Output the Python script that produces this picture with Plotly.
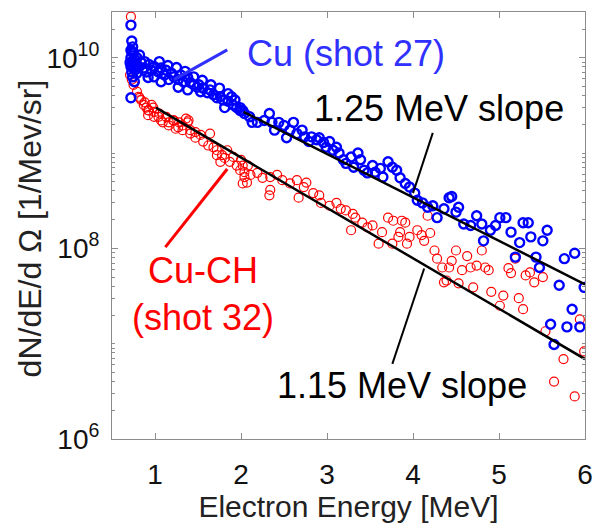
import plotly.graph_objects as go

# Cu target, shot 27: electron energy [MeV] and dN/dE/dOmega [1/MeV/sr]
cu_energy = [
    0.72, 0.73, 0.74, 0.73, 0.72, 0.74, 0.72, 0.73, 0.75, 0.72, 0.76, 0.77, 0.79, 0.82,
    0.81, 0.79, 0.84, 0.87, 0.88, 0.90, 0.93, 0.96, 0.99, 0.99, 1.04, 1.07, 1.11, 1.13,
    1.16, 1.19, 1.22, 1.27, 1.30, 1.33, 1.38, 1.41, 1.45, 1.49, 1.51, 1.53, 1.56, 1.61,
    1.64, 1.68, 1.72, 1.76, 1.79, 1.81, 1.85, 1.89, 1.91, 1.95, 1.99, 2.02, 0.92, 1.07,
    1.27, 1.38, 0.71, 0.72, 0.74, 0.75, 0.73, 0.76, 0.78,
    1.05, 1.15, 1.25, 1.35, 1.45, 1.55, 1.65, 1.75, 1.85, 1.93,
    1.99, 2.04, 2.10, 2.13, 2.19, 2.27, 2.33, 2.36, 2.39, 2.44, 2.50, 2.53, 2.57, 2.61,
    2.65, 2.71, 2.74, 2.79, 2.82, 2.88, 2.91, 2.96, 2.99, 3.03, 3.07, 3.11, 3.14, 3.19,
    3.22, 3.28, 3.31, 3.36, 3.39, 3.43, 3.47, 3.53, 3.56, 3.62, 3.65, 3.71, 3.76, 3.81,
    3.85, 3.91, 3.96,
    4.02, 4.05, 4.11, 4.17, 4.23, 4.28, 4.36, 4.42, 4.45, 4.50, 4.53, 4.59, 4.67, 4.74,
    4.80, 4.82, 4.90, 4.96, 5.01, 5.08, 5.14, 5.19, 5.24, 5.28, 5.34, 5.37, 5.43, 5.47,
    5.51, 5.56, 5.70, 5.76, 5.88, 5.99, 5.85, 5.60, 5.79, 5.94, 5.64,
]
cu_counts = [
    2.2e10, 1.5e10, 1.3e10, 1.15e10, 1.0e10, 9.1e9, 8.1e9, 7.1e9, 7.8e9, 3.8e9, 5.6e9, 9.5e9, 1.0e10, 1.07e10,
    8.1e9, 6.9e9, 8.9e9, 7.8e9, 9.1e9, 7.1e9, 8.5e9, 7.4e9, 8.1e9, 6.3e9, 7.1e9, 7.8e9, 6.6e9, 7.4e9,
    5.9e9, 6.9e9, 6.3e9, 5.9e9, 6.6e9, 5.6e9, 6.2e9, 5.5e9, 5.2e9, 4.9e9, 5.2e9, 4.4e9, 4.8e9, 4.3e9,
    4.6e9, 4.1e9, 3.8e9, 3.9e9, 3.6e9, 3.0e9, 3.5e9, 3.9e9, 3.2e9, 3.0e9, 2.8e9, 2.8e9, 6.2e9, 5.6e9,
    4.9e9, 4.6e9, 8.9e9, 1.2e10, 6.3e9, 1.12e10, 8.5e9, 8.3e9, 7.6e9,
    9.1e9, 8.3e9, 7.9e9, 7.2e9, 6.3e9, 5.8e9, 5.2e9, 4.8e9, 4.2e9, 3.6e9,
    3.0e9, 2.6e9, 2.4e9, 2.1e9, 2.1e9, 2.2e9, 2.6e9, 2.1e9, 1.74e9, 2.1e9, 1.95e9, 1.45e9, 1.74e9, 2.1e9,
    1.6e9, 1.74e9, 1.48e9, 1.32e9, 1.48e9, 1.38e9, 1.45e9, 1.29e9, 1.15e9, 1.32e9, 1.07e9, 1.15e9, 1.0e9, 8.5e8,
    7.8e8, 9.1e8, 7.1e8, 1.0e9, 8.5e8, 6.6e8, 6.2e8, 7.4e8, 6.3e8, 6.9e8, 5.6e8, 8.1e8, 7.1e8, 6.6e8,
    5.5e8, 4.8e8, 4.4e8,
    3.8e8, 3.2e8, 3.0e8, 2.7e8, 2.8e8, 2.1e8, 2.6e8, 3.4e8, 3.5e8, 2.4e8, 2.7e8, 1.8e8, 1.74e8, 2.2e8,
    1.8e8, 1.2e8, 1.55e8, 1.74e8, 2.1e8, 2.1e8, 1.48e8, 8.1e7, 1.15e8, 1.86e8, 1.86e8, 1.32e8, 8.1e7, 6.3e7,
    1.2e8, 1.55e8, 4.1e7, 7.8e7, 8.9e7, 3.9e7, 2.3e7, 1.6e7, 1.5e7, 1.5e7, 9.8e6,
]

# Cu-CH target, shot 32
cuch_energy = [
    0.72, 0.71, 0.73, 0.75, 0.79, 0.81, 0.84, 0.87, 0.90, 0.93, 0.92, 0.98, 0.99, 1.05,
    1.07, 1.13, 1.16, 1.22, 1.27, 1.32, 1.36, 1.39, 1.41, 1.47, 1.53, 0.82, 0.88, 0.92,
    0.96, 0.99, 1.04, 1.09, 1.16, 1.21, 1.24, 1.28, 1.32, 1.38, 1.41, 1.47, 1.56, 1.64,
    1.62, 1.68, 1.72, 1.78, 1.81, 1.84, 1.87, 1.91, 1.95, 1.99, 2.02, 2.04, 2.07, 1.72,
    1.76,
    2.00, 2.08, 2.04, 2.11, 2.02, 2.19, 2.25, 2.34, 2.42, 2.48, 2.34, 2.33, 2.57, 2.65,
    2.76, 2.73, 2.67, 2.84, 2.91, 2.93, 3.03, 3.11, 3.16, 3.22, 3.30, 3.33, 3.41, 3.47,
    3.53, 3.28, 3.64, 3.71, 3.77, 3.87, 3.83, 3.60, 3.76, 3.93, 3.96,
    3.91, 3.85, 4.05, 4.13, 4.10, 4.20, 4.17, 4.25, 4.28, 4.34, 4.42, 4.45, 4.50, 4.39,
    4.57, 4.63, 4.67, 4.74, 4.80, 4.84, 4.88, 5.11, 5.14, 5.19, 5.31, 5.36, 5.41, 5.51,
    4.36, 4.53, 4.70, 4.91, 5.05, 5.01, 5.23, 5.28, 5.54, 5.94, 5.99, 5.75, 5.64, 5.88,
]
cuch_counts = [
    2.7e10, 6.6e9, 5.9e9, 5.2e9, 4.4e9, 3.9e9, 3.6e9, 3.2e9, 3.0e9, 2.8e9, 2.5e9, 3.0e9, 2.4e9, 2.6e9,
    2.2e9, 2.4e9, 2.1e9, 2.2e9, 1.86e9, 1.95e9, 2.3e9, 2.2e9, 1.74e9, 1.66e9, 1.55e9, 3.8e9, 3.4e9, 2.8e9,
    3.2e9, 2.7e9, 2.4e9, 2.1e9, 1.95e9, 2.2e9, 1.8e9, 2.1e9, 1.74e9, 2.1e9, 1.6e9, 1.45e9, 1.32e9, 1.6e9,
    1.2e9, 1.15e9, 1.07e9, 9.5e8, 8.9e8, 1.07e9, 8.1e8, 9.1e8, 7.4e8, 6.6e8, 7.4e8, 5.6e8, 4.9e8, 9.5e8,
    8.1e8,
    8.5e8, 7.4e8, 6.3e8, 5.9e8, 4.8e8, 6.2e8, 5.5e8, 5.6e8, 5.9e8, 5.2e8, 4.1e8, 3.6e8, 4.8e8, 5.2e8,
    4.9e8, 4.4e8, 3.4e8, 3.8e8, 3.6e8, 3.0e8, 2.8e8, 3.0e8, 2.6e8, 2.5e8, 2.3e8, 2.1e8, 1.86e8, 1.66e8,
    1.74e8, 1.55e8, 1.48e8, 2.1e8, 1.95e8, 1.95e8, 1.32e8, 1.12e8, 1.12e8, 1.12e8, 1.32e8,
    1.86e8, 1.48e8, 1.55e8, 1.2e8, 1.38e8, 1.45e8, 2.2e8, 9.5e7, 7.8e7, 6.3e7, 6.3e7, 7.4e7, 9.5e7, 4.6e7,
    5.9e7, 8.3e7, 6.3e7, 6.6e7, 9.5e7, 6.3e7, 5.9e7, 6.2e7, 5.5e7, 7.8e7, 5.2e7, 5.6e7, 4.4e7, 5.0e7,
    4.4e7, 4.3e7, 3.9e7, 3.5e7, 3.2e7, 2.5e7, 3.0e7, 2.3e7, 1.35e7, 1.8e7, 8.3e6, 6.9e6, 4.0e6, 2.8e6,
]

# Exponential fit lines (end points)
fit_cu_energy = [2.03, 6.0]
fit_cu_counts = [2.7e9, 4.2e7]
fit_cuch_energy = [1.01, 6.0]
fit_cuch_counts = [3.0e9, 6.9e6]

x_ticks = [1, 2, 3, 4, 5, 6]
y_ticks = [1e6, 1e8, 1e10]
y_ticktext = ["10<sup>6</sup>", "10<sup>8</sup>", "10<sup>10</sup>"]

FONT = "Liberation Sans, Arial, sans-serif"
BLUE = "#0000ff"
RED = "#ff0000"

fig = go.Figure()
fig.add_trace(go.Scatter(
    x=cuch_energy, y=cuch_counts, mode="markers",
    marker=dict(symbol="circle-open", size=9, color=RED, line=dict(width=1.2, color=RED)),
    showlegend=False,
))
fig.add_trace(go.Scatter(
    x=cu_energy, y=cu_counts, mode="markers",
    marker=dict(symbol="circle-open", size=9, color=BLUE, line=dict(width=2.4, color=BLUE)),
    showlegend=False,
))
fig.add_trace(go.Scatter(
    x=fit_cu_energy, y=fit_cu_counts, mode="lines",
    line=dict(color="black", width=2.5), showlegend=False,
))
fig.add_trace(go.Scatter(
    x=fit_cuch_energy, y=fit_cuch_counts, mode="lines",
    line=dict(color="black", width=2.5), showlegend=False,
))

# Leader lines from labels to the curves (data coordinates)
leaders = [
    (1.84, 1.21e10, 1.22, 5.9e9, "#3030ff", 3),
    (4.23, 1.63e9, 4.00, 3.8e8, "black", 2),
    (1.84, 6.8e8, 1.12, 1.03e8, RED, 3),
    (4.13, 6.15e7, 3.76, 6.15e6, "black", 2),
]
for x0, y0, x1, y1, col, w in leaders:
    fig.add_shape(type="line", xref="x", yref="y", x0=x0, y0=y0, x1=x1, y1=y1,
                  line=dict(color=col, width=w))

# Text labels (paper coordinates)
PX0, PX1, PY0, PY1 = 112, 593, 12, 439
def px(x):
    return (x - PX0) / (PX1 - PX0)
def py(y):
    return (PY1 - y) / (PY1 - PY0)

def label(text, xp, yp, color, size=36, angle=0):
    fig.add_annotation(text=text, xref="paper", yref="paper", x=xp, y=yp,
                       xanchor="center", yanchor="middle", showarrow=False,
                       textangle=angle,
                       font=dict(family=FONT, size=size, color=color))

label("Cu (shot 27)", px(350), py(53), "#3030ff")
label("1.25 MeV slope", px(445), py(108), "black")
label("Cu-CH<br>(shot 32)", px(205), py(294), RED)
label("1.15 MeV slope", px(407), py(385), "black")
label("dN/dE/d \u03a9 [1/Mev/sr]", px(29), py(228), "#222", size=32, angle=-90)

axis_common = dict(
    showline=True, linecolor="#8c8c8c", linewidth=1, mirror="ticks",
    ticks="inside", tickcolor="#8c8c8c", ticklen=6, tickwidth=1,
    showgrid=False, zeroline=False,
    tickfont=dict(family=FONT, size=28, color="#111"),
)

fig.update_xaxes(
    range=[0.5, 6.0], tickvals=x_ticks, ticklabelstandoff=10,
    title=dict(text="Electron Energy [MeV]", font=dict(family=FONT, size=30, color="#222"), standoff=6),
    **axis_common,
)
fig.update_yaxes(
    type="log", range=[6, 10.48], tickvals=y_ticks, ticktext=y_ticktext,
    ticklabelstandoff=6,
    minor=dict(ticks="inside", ticklen=3, tickcolor="#8c8c8c", dtick="D1", showgrid=False),
    **axis_common,
)

fig.update_layout(
    width=602, height=531,
    margin=dict(l=112, r=9, t=12, b=92),
    plot_bgcolor="white", paper_bgcolor="white",
    font=dict(family=FONT),
)

fig.write_html("out.html")
